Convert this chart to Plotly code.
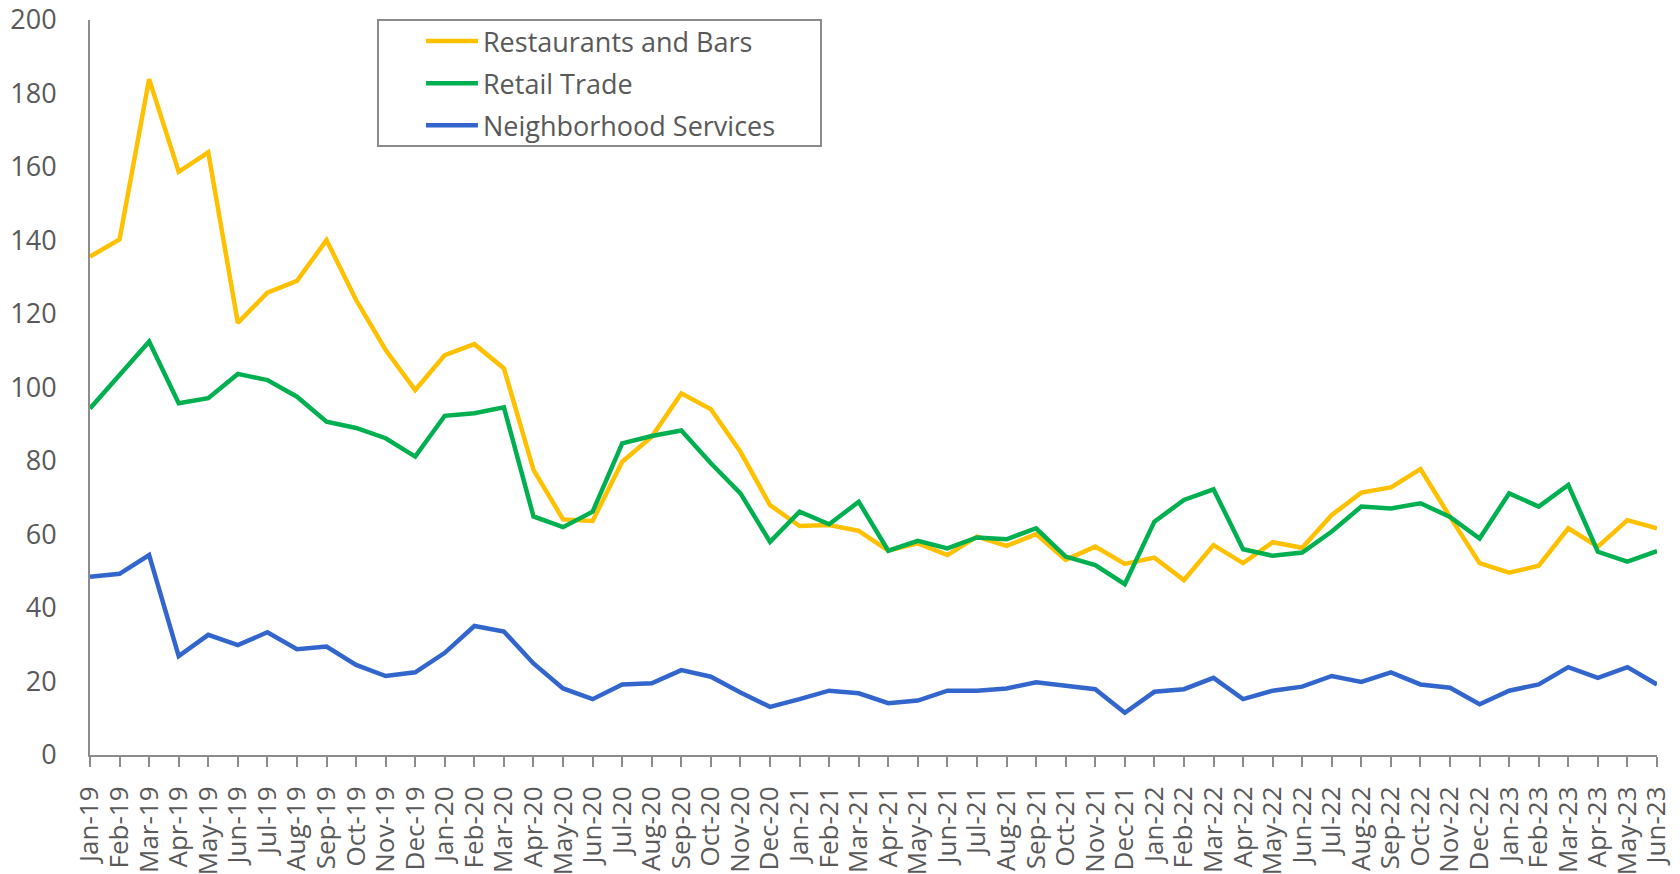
import plotly.graph_objects as go

months = ["Jan-19","Feb-19","Mar-19","Apr-19","May-19","Jun-19","Jul-19","Aug-19","Sep-19","Oct-19","Nov-19","Dec-19",
          "Jan-20","Feb-20","Mar-20","Apr-20","May-20","Jun-20","Jul-20","Aug-20","Sep-20","Oct-20","Nov-20","Dec-20",
          "Jan-21","Feb-21","Mar-21","Apr-21","May-21","Jun-21","Jul-21","Aug-21","Sep-21","Oct-21","Nov-21","Dec-21",
          "Jan-22","Feb-22","Mar-22","Apr-22","May-22","Jun-22","Jul-22","Aug-22","Sep-22","Oct-22","Nov-22","Dec-22",
          "Jan-23","Feb-23","Mar-23","Apr-23","May-23","Jun-23"]

restaurants_bars = [135.6,140.3,183.9,158.7,164.0,117.6,125.8,129.0,140.1,123.8,110.2,99.3,
                    108.8,111.8,105.2,77.6,64.1,63.7,79.8,86.6,98.4,94.1,82.5,68.0,
                    62.3,62.6,61.0,55.6,57.6,54.4,59.4,56.9,60.1,53.1,56.7,52.0,
                    53.7,47.6,57.1,52.2,57.9,56.4,65.3,71.4,72.8,77.8,64.8,52.2,
                    49.6,51.5,61.7,56.7,63.9,61.7]

retail_trade = [94.3,103.4,112.5,95.7,97.1,103.7,102.0,97.5,90.7,89.0,86.2,81.2,
                92.3,93.0,94.6,64.9,62.0,66.2,84.8,86.8,88.3,79.4,71.2,58.0,
                66.2,62.8,68.9,55.6,58.3,56.2,59.2,58.7,61.7,54.0,51.7,46.5,
                63.5,69.4,72.3,56.0,54.2,55.1,60.8,67.6,67.1,68.5,64.8,58.9,
                71.2,67.6,73.5,55.3,52.6,55.5]

neighborhood_services = [48.5,49.3,54.4,26.9,32.7,29.9,33.4,28.8,29.5,24.5,21.5,22.5,
                         27.8,35.1,33.6,24.9,18.1,15.2,19.2,19.5,23.1,21.3,17.0,13.1,
                         15.2,17.5,16.8,14.1,14.8,17.5,17.5,18.1,19.8,18.8,17.9,11.5,
                         17.2,17.9,21.0,15.2,17.5,18.6,21.5,19.9,22.5,19.2,18.3,13.8,
                         17.5,19.2,23.9,21.0,23.9,19.2]

series = [
    ("Restaurants and Bars", restaurants_bars, "#FFC000"),
    ("Retail Trade", retail_trade, "#00B050"),
    ("Neighborhood Services", neighborhood_services, "#3366CC"),
]

y_ticks = [0, 20, 40, 60, 80, 100, 120, 140, 160, 180, 200]

FONT = "Open Sans"
GREY = "#595959"

fig = go.Figure()
for i, (name, vals, color) in enumerate(series):
    fig.add_trace(go.Scatter(x=months, y=vals, name=name, mode="lines",
                             line=dict(color=color, width=4.5),
                             legendgroup=f"g{i}"))

fig.update_layout(
    template="none",
    width=1680, height=874,
    margin=dict(l=90, r=23, t=20, b=119, autoexpand=False),
    paper_bgcolor="white", plot_bgcolor="white",
    font=dict(family=FONT, color=GREY, size=27),
    showlegend=True,
    legend=dict(x=0.2112, y=1.004, xanchor="left", yanchor="top",
                bgcolor="rgba(0,0,0,0)", borderwidth=0,
                font=dict(family=FONT, size=27, color=GREY),
                tracegroupgap=4, itemwidth=52),
    xaxis=dict(type="category", range=[0, len(months) - 1],
               tickmode="linear", tick0=0, dtick=1,
               automargin=False,
               showgrid=False, zeroline=False,
               showline=True, linecolor="#8c8c8c", linewidth=2,
               ticks="outside", ticklen=10, tickwidth=2, tickcolor="#8c8c8c",
               tickangle=-90, tickfont=dict(family=FONT, size=26, color=GREY),
               ticklabelstandoff=9),
    yaxis=dict(range=[0, 200], tickmode="array", tickvals=y_ticks,
               automargin=False,
               showgrid=False, zeroline=False,
               showline=True, linecolor="#8c8c8c", linewidth=2,
               ticks="", tickfont=dict(family=FONT, size=27, color=GREY),
               ticklabelstandoff=26),
    shapes=[dict(type="rect", xref="paper", yref="paper",
                 x0=0.1838, x1=0.4665, y0=0.8286, y1=1.0,
                 line=dict(color="#8c8c8c", width=2), fillcolor="rgba(0,0,0,0)")],
)

fig.write_html("out.html",
               config={"displayModeBar": False},
               post_script="document.body.style.margin='0';document.body.style.overflow='hidden';")
